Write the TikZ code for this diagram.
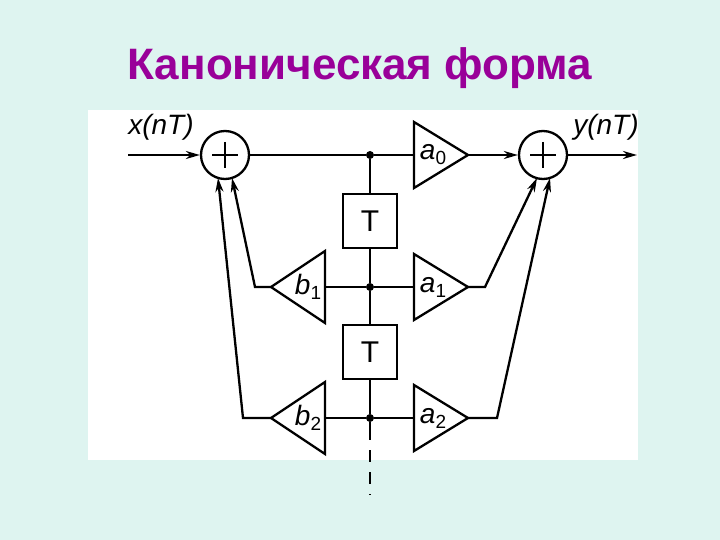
\documentclass[tikz,border=0pt]{standalone}
\usepackage{fontspec}
\setmainfont{Liberation Sans}
\usetikzlibrary{arrows.meta,calc}
\newcommand{\sbs}[2]{#1\raisebox{-5pt}{\fontsize{19}{19}\selectfont\upshape #2}}
\begin{document}
\begin{tikzpicture}[x=1pt,y=-1pt,
  ln/.style={line width=2.3pt},
  arr/.style={ln,-{Stealth[length=14pt,width=8pt]}},
  sumnode/.style={circle,draw,line width=2.3pt,minimum size=48pt,inner sep=0pt},
  tbox/.style={draw,line width=2.3pt,minimum width=54pt,minimum height=54pt,inner sep=0pt,font=\fontsize{30}{30}\selectfont},
  lab/.style={font=\fontsize{28}{28}\selectfont\itshape,inner sep=0pt},
  dot/.style={circle,fill,inner sep=0pt,minimum size=8pt}]
\fill[fill={rgb,255:red,222;green,244;blue,240}] (0,0) rectangle (720,540);
\useasboundingbox (0,0) rectangle (720,540);
\fill[white] (88,110) rectangle (638,460);
\node[font=\fontsize{44}{44}\selectfont\bfseries,text={rgb,255:red,153;green,0;blue,153}] (title) at (360,68) {Каноническая форма};
\node[sumnode] (s1) at (225,155) {};
\node[sumnode] (s2) at (543,155) {};
\foreach \s in {s1,s2}{\draw[ln] ($(\s)+(-13,0)$) -- ($(\s)+(13,0)$) ($(\s)+(0,-13)$) -- ($(\s)+(0,13)$);}
\coordinate (in) at (128,155);
\coordinate (out) at (637,155);
\node[lab] (xl) at (161,127) {x(nT)};
\node[lab] (yl) at (606,127) {y(nT)};
\draw[arr] (in) -- (s1);
\draw[arr] (s2) -- (out);
\node[dot] (j0) at (370,155) {};
\node[dot] (j1) at (370,287) {};
\node[dot] (j2) at (370,418) {};
\node[tbox] (t1) at (370,221) {T};
\node[tbox] (t2) at (370,352) {T};
\foreach \n/\y/\a/\b in {a0/155/a/0,a1/287/a/1,a2/418/a/2}{
  \draw[ln] (414,\y-33) -- (468,\y) -- (414,\y+33) -- cycle;
  \coordinate (\n in) at (414,\y); \coordinate (\n out) at (468,\y);
  \node[lab] (\n t) at (433,\y) {\sbs{\a}{\b}};}
\foreach \n/\y/\a/\b in {b1/287/b/1,b2/418/b/2}{
  \draw[ln] (325,\y-36) -- (271,\y) -- (325,\y+36) -- cycle;
  \coordinate (\n in) at (325,\y); \coordinate (\n out) at (271,\y);
  \node[lab] (\n t) at (308,\y) {\sbs{\a}{\b}};}
\draw[ln] (s1) -- (j0) -- (a0in);
\draw[arr] (a0out) -- (s2);
\draw[ln] (j0) -- (t1) -- (j1) -- (t2) -- (j2) -- (370,440);
\draw[line width=1.2pt,dash pattern=on 12pt off 10pt] (370,450) -- (370,495);
\draw[ln] (b1in) -- (j1) -- (a1in);
\draw[ln] (b2in) -- (j2) -- (a2in);
\draw[arr] (b1out) -- (255,287) -- (232,178);
\draw[arr] (b2out) -- (243,418) -- (218,178);
\draw[arr] (a1out) -- (485,287) -- (537,178);
\draw[arr] (a2out) -- (497,418) -- (550,178);
\end{tikzpicture}
\end{document}
